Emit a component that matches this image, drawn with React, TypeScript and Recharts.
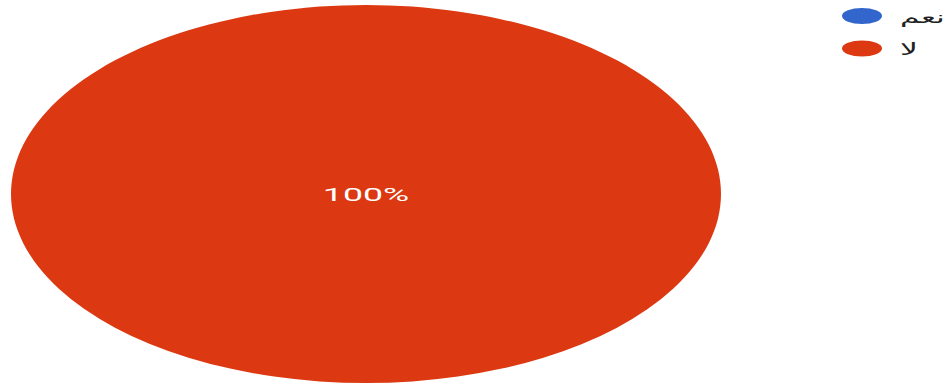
import React from "react";
import { PieChart, Pie, Cell, Legend } from "recharts";

const categories = ["نعم", "لا"];
const values = [0, 100];
const colors = ["#3366cc", "#dc3912"];

const data = categories.map((name, i) => ({ name, value: values[i] }));

const SX = 355 / 189;

const renderLabel = (props: any) => {
  const { cx, cy, percent } = props;
  if (!percent) return null;
  return (
    <text
      transform={`translate(${cx},${cy}) scale(${SX},1)`}
      x={0}
      y={0}
      textAnchor="middle"
      dominantBaseline="central"
      fill="#ffffff"
      fontFamily="Roboto, sans-serif"
      fontSize={19}
    >
      {`${Math.round(percent * 100)}%`}
    </text>
  );
};

const LegendContent = (props: any) => {
  const payload = [...(props.payload || [])].sort(
    (a: any, b: any) => categories.indexOf(a.value) - categories.indexOf(b.value)
  );
  return (
    <svg width={116} height={70} style={{ display: "block" }}>
      {payload.map((p: any, i: number) => {
        const cy = 16 + i * 32.5;
        return (
          <g key={i}>
            <ellipse cx={27} cy={cy} rx={20} ry={8} fill={p.color} />
            <text
              transform={`translate(65,${cy + 1}) scale(1.85,1)`}
              x={0}
              y={0}
              textAnchor="start"
              dominantBaseline="central"
              fill="#222222"
              fontFamily="'DejaVu Sans', sans-serif"
              fontSize={17}
            >
              {p.value}
            </text>
          </g>
        );
      })}
    </svg>
  );
};

export default function App() {
  return (
    <div style={{ position: "absolute", left: 0, top: 0, width: 951, height: 388, background: "#fff" }}>
      <style>{`.ell .recharts-pie-sector path { transform-origin: 366px 194px; transform: scaleX(${SX}); }`}</style>
      <PieChart className="ell" width={951} height={388} margin={{ top: 0, right: 0, bottom: 0, left: 0 }}>
        <Pie
          data={data}
          dataKey="value"
          nameKey="name"
          cx={366}
          cy={194}
          outerRadius={189}
          startAngle={90}
          endAngle={-270}
          stroke="none"
          labelLine={false}
          label={renderLabel}
          isAnimationActive={false}
        >
          {data.map((d, i) => (
            <Cell key={i} fill={colors[i]} stroke="none" />
          ))}
        </Pie>
        <Legend
          layout="vertical"
          align="right"
          verticalAlign="top"
          content={<LegendContent />}
          wrapperStyle={{ position: "absolute", top: 0, left: 835, width: 116 }}
        />
      </PieChart>
    </div>
  );
}
